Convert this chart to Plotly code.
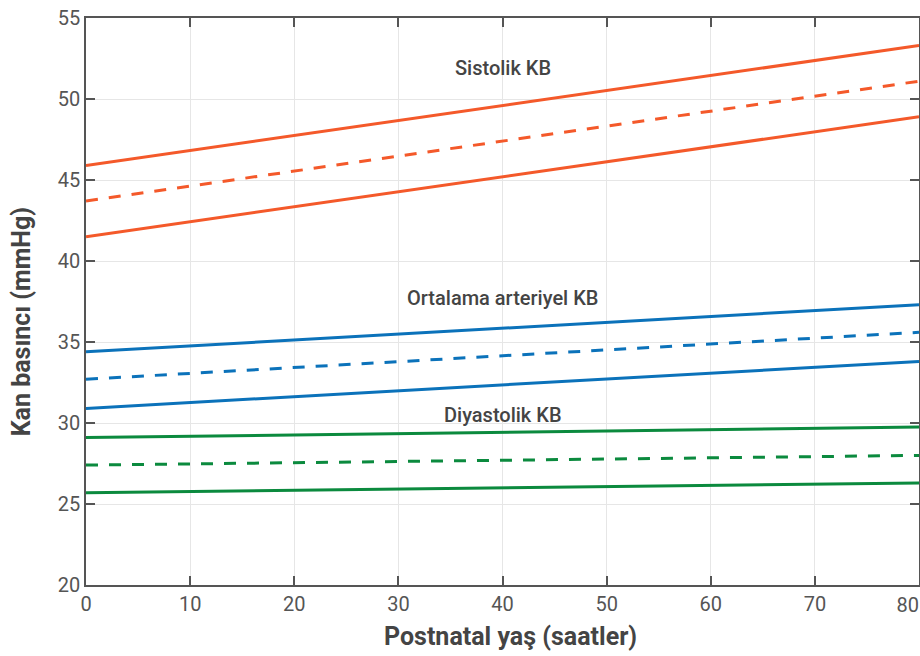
import plotly.graph_objects as go

x = [0, 80]
sys_upper = [45.9, 53.3]
sys_mean = [43.7, 51.1]
sys_lower = [41.5, 48.9]
map_upper = [34.4, 37.3]
map_mean = [32.7, 35.6]
map_lower = [30.9, 33.8]
dia_upper = [29.1, 29.75]
dia_mean = [27.4, 28.0]
dia_lower = [25.7, 26.3]

labels = ["Sistolik KB", "Ortalama arteriyel KB", "Diyastolik KB"]
label_x = [40, 40, 40]
label_y = [51.9, 37.7, 30.5]

x_title = "Postnatal yaş (saatler)"
y_title = "Kan basıncı (mmHg)"

x_ticks = [0, 10, 20, 30, 40, 50, 60, 70]
x_last_tick = [80]

orange = "#F4592A"
blue = "#0B72BA"
green = "#0B8A3E"
dash = "12px,11px"

series = [
    (sys_upper, orange, "solid"), (sys_mean, orange, dash), (sys_lower, orange, "solid"),
    (map_upper, blue, "solid"), (map_mean, blue, dash), (map_lower, blue, "solid"),
    (dia_upper, green, "solid"), (dia_mean, green, dash), (dia_lower, green, "solid"),
]

fig = go.Figure()
for ys, c, d in series:
    fig.add_trace(go.Scatter(x=x, y=ys, mode="lines",
                             line=dict(color=c, width=3, dash=d),
                             showlegend=False, hoverinfo="skip"))
# invisible helper trace so the overlay axis for the last tick label is drawn
fig.add_trace(go.Scatter(x=x, y=dia_lower, xaxis="x2", mode="lines",
                         line=dict(color="rgba(0,0,0,0)", width=0),
                         showlegend=False, hoverinfo="skip"))

for t, lx, ly in zip(labels, label_x, label_y):
    fig.add_annotation(x=lx, y=ly, text=t, showarrow=False,
                       font=dict(family="Roboto", size=20, color="#444444", weight=500))

title_font = dict(family="Roboto", size=25, color="#444444")
fig.add_annotation(xref="paper", yref="paper", x=0.510, y=-0.09,
                   text="<b>" + x_title + "</b>", showarrow=False,
                   xanchor="center", yanchor="middle", font=title_font)
fig.add_annotation(xref="paper", yref="paper", x=-0.077, y=0.4647,
                   text="<b>" + y_title + "</b>", showarrow=False, textangle=-90,
                   xanchor="center", yanchor="middle", font=title_font)

tick_font = dict(family="Roboto", size=20, color="#555555")
axis_common = dict(
    showline=True, linecolor="#555555", linewidth=1.5, mirror="ticks",
    ticks="inside", ticklen=9, tickcolor="#555555", tickwidth=1.5,
    showgrid=True, gridcolor="#E6E6E6", gridwidth=1, zeroline=False,
    tickfont=tick_font, automargin=False,
)

fig.update_layout(
    xaxis=dict(range=[0, 80], tickvals=x_ticks, **axis_common),
    xaxis2=dict(range=[0, 80], overlaying="x", side="bottom", anchor="y",
                tickvals=x_last_tick, ticklabelposition="outside left",
                ticklabelstandoff=6,
                ticks="", showline=False, showgrid=False, zeroline=False,
                tickfont=tick_font, automargin=False),
    yaxis=dict(range=[20, 55], dtick=5, tick0=20, **axis_common),
    width=920, height=656,
    margin=dict(l=86, r=1, t=18, b=71),
    plot_bgcolor="white", paper_bgcolor="white",
)

fig.write_html("out.html")
